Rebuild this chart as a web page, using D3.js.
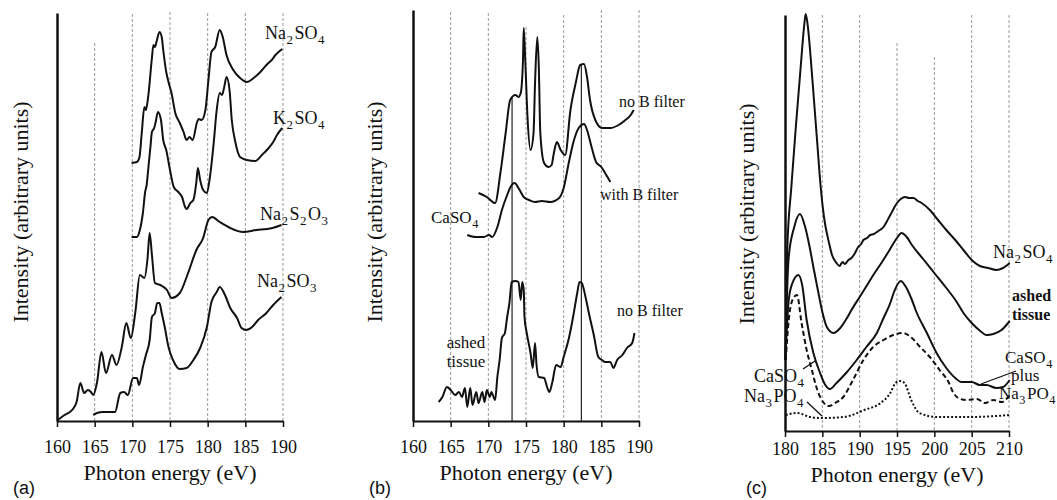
<!DOCTYPE html>
<html><head><meta charset="utf-8">
<script src="https://cdn.jsdelivr.net/npm/d3@7"></script>
<style>
body{margin:0;background:#fff;}
svg{display:block;}
text{font-family:"Liberation Serif","Times New Roman",serif;fill:#111;}
</style></head><body>
<svg id="chart" width="1057" height="500"></svg>
<script>
// ---------- DATA ----------
const ticksAB = [160,165,170,175,180,185,190];
const ticksC  = [180,185,190,195,200,205,210];
const xTitle = "Photon energy (eV)";
const yTitle = "Intensity (arbitrary units)";

// Panel (a) spectra: [photon energy eV, intensity a.u.]
const a_Na2SO4 = [[169.9,258],[170.6,259],[170.95,264],[171.25,288],[171.6,314],[171.8,311],[172.1,324],[172.6,363],[172.8,376],[173.0,374],[173.2,379],[173.6,389],[173.9,384],[174.1,371],[174.5,349],[174.8,339],[175.2,328],[175.7,308],[176.3,298],[176.8,289],[177.2,281],[177.6,284],[178.0,281],[178.6,299],[178.8,302],[179.2,301],[179.7,311],[180.1,341],[180.5,369],[181.0,374],[181.6,391],[182.0,384],[182.5,366],[183.4,351],[184.3,343],[185.2,339],[186.1,343],[187.0,349],[187.8,356],[188.5,361],[189.0,366],[189.4,369],[189.9,372]];
const a_K2SO4 = [[169.9,184],[170.6,184],[171.0,191],[171.4,208],[171.7,229],[171.9,236],[172.1,251],[172.4,274],[172.6,289],[172.9,293],[173.1,299],[173.4,309],[173.8,301],[174.1,281],[174.5,271],[175.0,251],[175.5,234],[176.1,229],[176.6,224],[177.0,214],[177.2,212],[177.7,218],[178.1,221],[178.5,239],[178.7,253],[179.0,241],[179.4,231],[179.9,228],[180.3,244],[180.8,278],[181.2,311],[181.6,328],[181.9,326],[182.2,334],[182.5,344],[182.9,331],[183.2,301],[183.7,278],[184.3,264],[185.2,261],[186.3,260],[187.2,266],[188.1,273],[188.7,279],[189.2,286],[189.9,293]];
const a_Na2S2O3 = [[160.1,1],[161.0,6],[162.0,11],[162.6,19],[163.1,38],[163.6,28],[164.1,31],[164.5,29],[164.8,26],[165.3,38],[165.9,69],[166.5,48],[167.3,66],[167.9,56],[168.6,74],[169.2,98],[169.8,83],[170.4,109],[171.0,146],[171.6,143],[172.0,161],[172.3,188],[172.6,166],[173.0,138],[173.7,136],[174.6,131],[175.2,123],[176.3,128],[177.4,148],[178.5,171],[179.4,183],[180.1,201],[180.6,204],[181.6,199],[183.0,193],[184.7,189],[186.5,191],[187.9,192],[188.6,193],[189.8,196]];
const a_Na2SO3 = [[164.8,6],[165.3,8],[166.1,9],[167.7,9],[168.4,28],[168.9,29],[169.4,26],[170.1,43],[170.6,43],[170.9,36],[171.4,54],[171.8,66],[172.3,81],[172.6,104],[173.0,108],[173.3,118],[173.6,118],[173.9,108],[174.3,94],[174.8,74],[175.4,61],[176.3,52],[177.2,53],[178.1,61],[179.0,73],[179.9,94],[180.5,119],[181.2,129],[181.6,134],[182.3,126],[183.0,113],[183.9,103],[184.5,93],[185.1,91],[185.9,94],[186.7,101],[187.8,108],[188.7,116],[189.8,124]];

// Panel (b) spectra
const b_noFilterCaSO4 = [[168.7,228],[169.8,224],[170.9,218],[171.6,248],[172.3,288],[172.9,321],[173.6,326],[174.0,324],[174.3,328],[174.6,361],[174.7,393],[174.9,361],[175.2,304],[175.6,271],[176.0,288],[176.2,338],[176.5,384],[176.7,354],[176.9,288],[177.4,258],[178.0,254],[178.4,256],[178.7,268],[179.1,279],[179.6,271],[180.2,266],[180.9,311],[181.6,338],[182.2,356],[182.7,357],[183.1,344],[183.5,321],[184.2,301],[185.1,293],[186.2,293],[187.3,296],[188.2,301],[188.9,306],[189.3,311]];
const b_withFilterCaSO4 = [[167.2,186],[168.3,184],[169.4,184],[170.1,186],[170.5,184],[171.2,194],[171.8,211],[172.5,226],[173.1,236],[173.5,238],[174.0,233],[174.7,224],[175.4,221],[176.2,219],[177.1,220],[178.2,219],[179.4,223],[180.0,233],[180.7,259],[181.3,279],[182.0,293],[182.7,297],[183.1,291],[183.7,274],[184.3,259],[185.0,254],[185.5,248],[186.2,239]];
const b_ashedTissue = [[163.4,19],[163.9,24],[164.5,34],[165.0,31],[165.6,26],[166.1,29],[166.5,24],[166.9,33],[167.2,14],[167.6,33],[167.9,16],[168.4,29],[168.7,18],[169.2,29],[169.5,19],[169.8,31],[170.2,24],[170.4,29],[170.9,21],[171.2,44],[171.5,61],[171.8,83],[172.2,88],[172.5,104],[172.8,118],[173.1,139],[173.6,140],[174.0,139],[174.3,121],[174.5,139],[174.7,131],[174.8,104],[175.1,88],[175.6,68],[175.9,53],[176.2,78],[176.4,56],[176.7,44],[177.4,43],[177.8,34],[178.1,29],[178.5,39],[179.0,56],[179.6,54],[180.0,64],[180.7,83],[181.3,106],[181.8,128],[182.1,139],[182.4,138],[182.9,124],[183.4,106],[184.0,86],[184.6,64],[185.1,61],[185.5,59],[186.2,59],[186.6,53],[187.1,61],[187.8,66],[188.4,73],[189.1,78],[189.4,88]];
const b_markers = [173.15, 182.35];

// Panel (c) spectra
const c_Na2SO4 = [[180.05,71],[180.3,181],[180.85,244],[181.45,304],[182.1,364],[182.55,404],[182.77,417],[183.07,404],[183.43,374],[183.88,331],[184.32,288],[184.78,244],[185.22,214],[185.9,188],[186.3,176],[186.9,168],[187.3,165],[187.7,169],[188.0,167],[188.5,171],[188.9,173],[189.3,177],[189.8,184],[190.2,187],[190.5,191],[191.0,193],[191.4,196],[191.9,197],[192.3,199],[192.7,201],[193.2,204],[193.6,209],[194.1,216],[194.6,223],[195.0,228],[195.5,232],[196.1,234],[196.6,233],[197.2,233],[197.8,230],[198.3,228],[199.4,221],[200.5,211],[201.6,201],[202.8,191],[203.9,181],[205.0,171],[206.1,165],[207.2,163],[208.3,161],[209.2,163],[210.1,168]];
const c_ashedTissue = [[180.05,71],[180.25,131],[180.5,174],[181.2,203],[182.0,217],[182.7,204],[183.3,184],[183.8,164],[184.4,141],[185.0,119],[185.6,104],[186.5,98],[187.4,103],[188.3,113],[188.9,121],[190.0,134],[191.0,146],[192.0,158],[193.0,169],[194.0,181],[195.0,193],[195.6,198],[196.3,194],[197.0,186],[198.5,172],[200.0,158],[201.5,144],[203.0,129],[203.9,118],[205.0,108],[206.0,101],[207.0,96],[207.9,97],[209.0,101],[210.1,110]];
const c_CaSO4plusNa3PO4 = [[180.05,71],[180.5,131],[181.0,148],[181.8,156],[182.3,146],[182.9,111],[183.8,78],[184.7,58],[185.4,46],[186.0,42],[186.9,48],[188.3,59],[189.6,71],[190.9,84],[192.3,98],[193.2,113],[194.1,128],[194.6,139],[195.5,150],[196.2,144],[197.0,131],[197.6,119],[199.0,98],[200.3,78],[201.6,63],[202.8,53],[203.6,49],[205.0,49],[206.1,46],[207.0,46],[208.3,43],[209.2,44],[210.1,51]];
const c_CaSO4 = [[180.1,71],[180.5,111],[181.0,131],[181.6,136],[182.2,109],[182.9,81],[183.6,61],[184.2,44],[185.1,29],[185.9,25],[186.7,28],[187.8,34],[189.1,51],[190.5,71],[191.8,84],[193.2,91],[194.5,96],[195.8,98],[197.0,93],[198.1,84],[199.4,74],[200.7,61],[201.9,49],[202.5,39],[203.2,33],[204.3,31],[205.7,32],[206.8,28],[207.9,31],[209.0,29],[210.1,36]];
const c_Na3PO4 = [[180.1,16],[181.6,18],[183.4,14],[184.8,13],[187.9,14],[190.6,21],[192.8,28],[194.1,38],[194.8,48],[195.4,50],[196.0,48],[196.9,31],[198.0,18],[200.3,14],[204.8,14],[210.1,16]];

// ---------- LAYOUT ----------
const SERIF = '"Liberation Serif","Times New Roman",serif';
const svg = d3.select("#chart");
const layout = {
  a: {x0:57,  x1:283,  axisY:421, topY:13, dom:[160,190], ticks:ticksAB, ylabX:28,  ylabY:212, tickY:453, titleY:480, tag:"(a)", tagX:13,
      grid:[[165,43],[170,14],[175,12],[180,13],[185,13],[190,13]]},
  b: {x0:413, x1:639,  axisY:421, topY:10, dom:[160,190], ticks:ticksAB, ylabX:382, ylabY:212, tickY:453, titleY:480, tag:"(b)", tagX:369,
      grid:[[165,12],[170,13],[175,27],[180,15],[185,10],[190,10]]},
  c: {x0:785, x1:1009, axisY:431, topY:15, dom:[180,210], ticks:ticksC, ylabX:754, ylabY:214, tickY:455, titleY:482, tag:"(c)", tagX:746,
      grid:[[185,15],[190,15],[195,43],[200,57],[205,15],[210,15]]}
};

// chemical-formula text: digits rendered as subscripts; lines = array of strings (one text element)
function chem(g, x, y, lines, size, opts={}) {
  if (!Array.isArray(lines)) lines = [lines];
  const lh = opts.lineHeight || size;
  const t = g.append("text").attr("x", x).attr("y", y)
    .style("font-size", size + "px").style("font-family", SERIF);
  if (opts.bold) t.style("font-weight", "bold");
  if (opts.anchor) t.attr("text-anchor", opts.anchor);
  lines.forEach((str, li) => {
    const lx = (opts.xs && opts.xs[li] != null) ? opts.xs[li] : x;
    const ly = (opts.ys && opts.ys[li] != null) ? opts.ys[li] : y + li * lh;
    let first = true, sub = false;
    str.match(/(\d+|\D+)/g).forEach(tok => {
      const ts = t.append("tspan");
      if (first) { ts.attr("x", lx).attr("y", ly); first = false; }
      if (/^\d+$/.test(tok)) {
        ts.attr("dy", size * 0.3).attr("dx", 0.5).style("font-size", (size * 0.72) + "px").text(tok);
        sub = true;
      } else {
        if (sub) ts.attr("dy", -size * 0.3).attr("dx", 1.5);
        ts.text(tok);
        sub = false;
      }
    });
  });
  return t;
}

function panel(L) {
  const g = svg.append("g");
  const x = d3.scaleLinear().domain(L.dom).range([L.x0, L.x1]);
  const y = d3.scaleLinear().domain([0, 420]).range([L.axisY, L.axisY - 420]);
  const yTopVal = L.axisY - L.topY;

  g.selectAll("line.grid").data(L.grid).join("line")
    .attr("x1", d => x(d[0])).attr("x2", d => x(d[0]))
    .attr("y1", d => d[1]).attr("y2", L.axisY)
    .attr("stroke", "#9a9a9a").attr("stroke-width", 1).attr("stroke-dasharray", "3,2");

  const ax = g.append("g").attr("transform", `translate(0,${L.axisY})`)
    .call(d3.axisBottom(x).tickValues(L.ticks).tickSize(6).tickSizeOuter(0).tickFormat(d3.format("d")));
  ax.attr("font-family", null).attr("font-size", null);
  ax.select(".domain").attr("stroke", "#111").attr("stroke-width", 2);
  ax.selectAll(".tick line").attr("stroke", "#111").attr("stroke-width", 1.5);
  ax.selectAll(".tick text").attr("y", L.tickY - L.axisY).attr("dy", 0)
    .style("font-size", "18px").style("font-family", SERIF).attr("fill", "#111");

  const ay = d3.scaleLinear().domain([0, yTopVal]).range([L.axisY, L.topY]);
  const yax = g.append("g").attr("transform", `translate(${L.x0},0)`)
    .call(d3.axisLeft(ay).tickValues([]).tickSizeOuter(0));
  yax.select(".domain").attr("stroke", "#111").attr("stroke-width", 2.5);

  g.append("text").attr("x", (L.x0 + L.x1) / 2).attr("y", L.titleY).attr("text-anchor", "middle")
    .style("font-size", "22px").style("font-family", SERIF).text(xTitle);
  g.append("text").attr("transform", `translate(${L.ylabX},${L.ylabY}) rotate(-90)`).attr("text-anchor", "middle")
    .style("font-size", "22px").style("font-family", SERIF).text(yTitle);
  g.append("text").attr("x", L.tagX).attr("y", 494)
    .style("font-family", '"Liberation Sans",Arial,sans-serif').style("font-size", "18px").text(L.tag);

  return {g, x, y};
}

function drawLine(P, data, dash) {
  const line = d3.line().x(d => P.x(d[0])).y(d => P.y(d[1])).curve(d3.curveMonotoneX);
  P.g.append("path").datum(data).attr("d", line)
    .attr("fill", "none").attr("stroke", "#111").attr("stroke-width", 2)
    .attr("stroke-linejoin", "round").attr("stroke-dasharray", dash || null);
}

// ---- Panel (a) ----
const A = panel(layout.a);
[a_Na2SO4, a_K2SO4, a_Na2S2O3, a_Na2SO3].forEach(s => drawLine(A, s));
chem(A.g, 265, 39, "Na2SO4", 18);
chem(A.g, 273, 124, "K2SO4", 18);
chem(A.g, 260, 220, "Na2S2O3", 18);
chem(A.g, 257, 287, "Na2SO3", 18);

// ---- Panel (b) ----
const B = panel(layout.b);
B.g.selectAll("line.marker").data(b_markers).join("line")
  .attr("x1", d => B.x(d)).attr("x2", d => B.x(d))
  .attr("y1", (d, i) => i === 0 ? 97 : 64).attr("y2", layout.b.axisY)
  .attr("stroke", "#222").attr("stroke-width", 1.2);
[b_noFilterCaSO4, b_withFilterCaSO4, b_ashedTissue].forEach(s => drawLine(B, s));
chem(B.g, 619, 107, "no B filter", 16);
chem(B.g, 600, 200, "with B filter", 16);
chem(B.g, 431, 223, "CaSO4", 17);
chem(B.g, 617, 316, "no B filter", 16);
chem(B.g, 466, 348, ["ashed", "tissue"], 17, {anchor:"middle", lineHeight:19});

// ---- Panel (c) ----
const C = panel(layout.c);
drawLine(C, c_Na2SO4);
drawLine(C, c_ashedTissue);
drawLine(C, c_CaSO4plusNa3PO4);
drawLine(C, c_CaSO4, "5,3");
drawLine(C, c_Na3PO4, "2,2");
chem(C.g, 993, 258, "Na2SO4", 18);
chem(C.g, 1012, 301, ["ashed", "tissue"], 16, {bold:true, lineHeight:19});
chem(C.g, 1005, 363, ["CaSO4", "plus", "Na3PO4"], 17, {xs:[1005, 1011, 999], ys:[363, 381, 399]});
chem(C.g, 754, 382, "CaSO4", 18);
chem(C.g, 744, 402, "Na3PO4", 18);
const leaders = [[[803,369],[815,361]], [[807,402],[822,416]], [[981,384],[1016,371]]];
C.g.selectAll("line.leader").data(leaders).join("line")
  .attr("x1", d => d[0][0]).attr("y1", d => d[0][1]).attr("x2", d => d[1][0]).attr("y2", d => d[1][1])
  .attr("stroke", "#111").attr("stroke-width", 1.3);
</script>
</body></html>
